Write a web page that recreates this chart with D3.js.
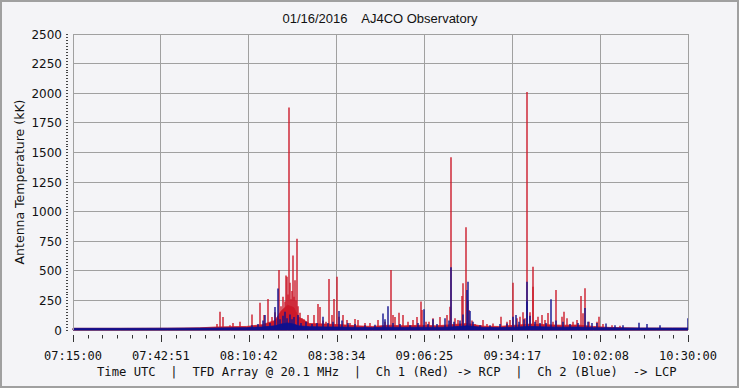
<!DOCTYPE html>
<html lang="en">
<head>
<meta charset="UTF-8">
<title>AJ4CO Observatory</title>
<script src="https://d3js.org/d3.v7.min.js"></script>
<style>
  body { margin: 0; background: #ffffff; }
  text { white-space: pre; }
</style>
</head>
<body>
<svg id="chart" width="740" height="389"></svg>
<script>
// time in minutes after 07:15:00 UTC, values in kK
const xTickLabels = ["07:15:00", "07:42:51", "08:10:42", "08:38:34", "09:06:25", "09:34:17", "10:02:08", "10:30:00"];
const yTicks = [0, 250, 500, 750, 1000, 1250, 1500, 1750, 2000, 2250, 2500];

// slowly varying floor of each channel
const baseT    = [0, 15, 30, 40, 45, 50, 55, 60, 64, 66, 68, 70, 71.5, 75, 80, 85, 90, 95, 100, 105, 110, 115, 120, 125, 130, 135, 140, 145, 150, 155, 160, 165, 170, 175, 180, 185, 190, 195];
const baseBlue = [14, 14, 15, 16, 17, 18, 20, 25, 35, 50, 60, 50, 35, 28, 26, 25, 22, 20, 24, 22, 24, 22, 26, 35, 22, 20, 24, 30, 26, 24, 25, 20, 18, 17, 16, 16, 16, 16];
const baseRed  = [14, 14, 15, 18, 25, 28, 30, 45, 80, 160, 210, 190, 110, 55, 50, 45, 35, 30, 40, 35, 40, 35, 45, 55, 32, 30, 40, 50, 45, 40, 42, 30, 22, 18, 16, 16, 16, 16];

// spikes, channel 1 (red, RCP)
const redT = [45.6, 46.6, 47.6, 49.8, 50.7, 52.9, 56.8, 59.3, 60.6, 61.8, 63.1, 64.0, 65.4, 66.0, 66.6, 67.1, 67.5, 67.9, 68.3, 68.6, 68.8, 69.1, 69.4, 69.9, 70.1, 70.4, 70.7, 71.1, 71.4, 72.0,
  72.5, 73.2, 74.5, 76.4, 77.7, 78.3, 79.3, 80.2, 81.3, 82.0, 82.8, 83.6, 84.3, 85.6, 86.8, 87.8, 89.4, 90.4, 92.6, 94.2, 96.7, 98.9,
  100.8, 101.4, 102.1, 103.4, 104.6, 106.2, 107.8, 109.0, 110.2, 110.6, 111.9, 113.0, 114.1, 116.4, 118.5, 119.5, 120.0, 121.1, 122.1, 123.2, 123.8, 124.5, 125.1, 125.7, 126.5, 127.5,
  129.4, 129.9, 131.2, 133.2, 135.6, 137.5, 138.6, 139.6, 140.7, 141.7, 142.8, 143.3, 144.1, 144.9, 145.7, 146.0, 146.8, 147.4, 148.6, 149.7, 150.6, 152.3, 153.3, 154.9, 155.6, 156.7,
  158.5, 159.9, 161.0, 161.6, 162.4, 163.7, 166.1, 166.9, 168.1, 170.8, 173.4];
const redV = [50, 155, 110, 40, 60, 70, 130, 230, 127, 262, 110, 150, 507, 200, 280, 240, 460, 450, 300, 1880, 400, 260, 330, 630, 280, 420, 250, 770, 200, 145,
  100, 90, 127, 127, 220, 194, 80, 70, 430, 127, 262, 450, 112, 127, 84, 60, 93, 84, 60, 60, 84, 70,
  507, 127, 110, 146, 127, 70, 84, 110, 240, 169, 70, 70, 99, 110, 127, 197, 1460, 100, 84, 287, 394, 867, 250, 169, 80, 50,
  40, 84, 50, 55, 112, 70, 84, 400, 100, 112, 150, 100, 2010, 150, 535, 366, 84, 112, 127, 84, 143, 70, 338, 112, 155, 100,
  70, 84, 287, 141, 352, 70, 70, 112, 50, 40, 35];

// spikes, channel 2 (blue, LCP)
const blueT = [56.8, 58.7, 60.3, 60.9, 62.5, 64.1, 64.9, 65.6, 66.6, 67.3, 67.9, 68.7, 69.4, 70.1, 71.3, 72.3, 73.9, 75.8, 77.4, 79.2, 80.9, 82.4, 84.4, 85.3, 87.2, 89.4, 92.6, 95.8,
  98.2, 98.9, 99.9, 101.5, 103.7, 106.9, 109.4, 111.4, 112.6, 114.1, 115.4, 117.9, 119.2, 120.0, 120.8, 122.7, 123.6, 124.8, 125.3, 125.9, 126.8,
  129.0, 132.2, 135.4, 137.6, 139.5, 140.4, 141.4, 143.0, 143.9, 144.1, 144.9, 146.5, 148.1, 150.0, 151.7, 153.0, 155.5, 157.6,
  160.1, 162.3, 163.3, 164.5, 166.1, 169.0, 171.9, 174.4, 179.4, 181.9, 186.1, 195.0];
const blueV = [40, 50, 80, 127, 60, 194, 350, 90, 120, 155, 100, 130, 90, 110, 127, 60, 70, 50, 60, 112, 60, 70, 160, 80, 60, 50, 40, 45,
  140, 90, 200, 60, 50, 40, 60, 176, 50, 90, 50, 100, 80, 530, 70, 80, 130, 338, 408, 160, 70,
  40, 40, 50, 55, 112, 127, 70, 90, 240, 408, 120, 70, 60, 60, 259, 80, 70, 50,
  60, 186, 70, 59, 60, 55, 40, 40, 62, 50, 40, 100];

const redColor = "#cc1a2a";
const blueColor = "#10108e";
const gridColor = "#a0a0a0";

const svg = d3.select("#chart");
const margin = { top: 34, right: 52, bottom: 59, left: 73 };
const width = 740, height = 389;

svg.append("rect")
  .attr("x", 1).attr("y", 1)
  .attr("width", width - 3).attr("height", height - 3)
  .attr("fill", "#f4f4f7")
  .attr("stroke", "#a0a0a0")
  .attr("stroke-width", 2);

const x = d3.scaleLinear().domain([0, 195]).range([margin.left, width - margin.right]);
const y = d3.scaleLinear().domain([0, 2500]).range([height - margin.bottom, margin.top]);

const xMajor = d3.range(xTickLabels.length).map(i => i * 195 / (xTickLabels.length - 1));
const xMinor = d3.range(0, 43).map(i => i * 195 / 42);
const yMinor = d3.range(0, 101).map(i => i * 25);

// grid
const grid = svg.append("g");
grid.selectAll("line.v").data(xMajor).join("line")
  .attr("x1", d => x(d)).attr("x2", d => x(d))
  .attr("y1", y(2500)).attr("y2", y(0))
  .attr("stroke", gridColor).attr("shape-rendering", "crispEdges");
grid.selectAll("line.h").data(yTicks).join("line")
  .attr("x1", x(0)).attr("x2", x(195))
  .attr("y1", d => y(d)).attr("y2", d => y(d))
  .attr("stroke", gridColor).attr("shape-rendering", "crispEdges");

// y axis ticks (dotted)
svg.append("g").selectAll("line").data(yMinor).join("line")
  .attr("x1", 66).attr("x2", 68)
  .attr("y1", d => Math.round(y(d)) + 0.5).attr("y2", d => Math.round(y(d)) + 0.5)
  .attr("stroke", "#444");
svg.append("g").selectAll("text").data(yTicks).join("text")
  .attr("x", 62).attr("y", d => y(d) + 4.5)
  .attr("text-anchor", "end")
  .attr("font-family", "DejaVu Sans")
  .attr("font-size", 12)
  .attr("fill", "#111")
  .text(d => d);

// x axis ticks
svg.append("g").selectAll("line").data(xMinor).join("line")
  .attr("x1", d => Math.round(x(d)) + 0.5).attr("x2", d => Math.round(x(d)) + 0.5)
  .attr("y1", 335).attr("y2", (d, i) => i % 6 === 0 ? 342 : 338.5)
  .attr("stroke", "#333");
svg.append("g").selectAll("text").data(xTickLabels).join("text")
  .attr("x", (d, i) => x(xMajor[i]))
  .attr("y", 360)
  .attr("text-anchor", "middle")
  .attr("font-family", "DejaVu Sans Mono")
  .attr("font-size", 12)
  .attr("fill", "#111")
  .text(d => d);

// series
function drawChannel(base, ts, vs, color) {
  const area = d3.area()
    .x((d, i) => x(baseT[i]))
    .y0(y(0))
    .y1(d => y(d));
  svg.append("path").datum(base)
    .attr("d", area)
    .attr("fill", color)
    .attr("stroke", color)
    .attr("stroke-width", 0.8);
  svg.append("g").selectAll("line").data(ts).join("line")
    .attr("x1", d => Math.round(x(d))).attr("x2", d => Math.round(x(d)))
    .attr("y1", y(0))
    .attr("y2", (d, i) => y(vs[i]))
    .attr("stroke", color)
    .attr("stroke-width", 1.4);
}
drawChannel(baseRed, redT, redV, redColor);
drawChannel(baseBlue, blueT, blueV, blueColor);

// frame
svg.append("path")
  .attr("d", `M${x(0)},${y(0)}V${y(2500)}H${x(195)}V${y(0)}`)
  .attr("fill", "none")
  .attr("stroke", gridColor)
  .attr("shape-rendering", "crispEdges");

// texts
svg.append("text")
  .attr("x", 380).attr("y", 23)
  .attr("text-anchor", "middle")
  .attr("font-family", "Liberation Sans")
  .attr("font-size", 13)
  .attr("fill", "#111")
  .text("01/16/2016    AJ4CO Observatory");

svg.append("text")
  .attr("transform", `translate(24,${(y(0) + y(2500)) / 2}) rotate(-90)`)
  .attr("text-anchor", "middle")
  .attr("font-family", "DejaVu Sans")
  .attr("font-size", 12.5)
  .attr("fill", "#111")
  .text("Antenna Temperature (kK)");

svg.append("text")
  .attr("x", 97).attr("y", 376)
  .attr("font-family", "DejaVu Sans Mono")
  .attr("font-size", 12.2)
  .attr("fill", "#111")
  .text("Time UTC  |  TFD Array @ 20.1 MHz  |  Ch 1 (Red) -> RCP  |  Ch 2 (Blue)  -> LCP");
</script>
</body>
</html>
